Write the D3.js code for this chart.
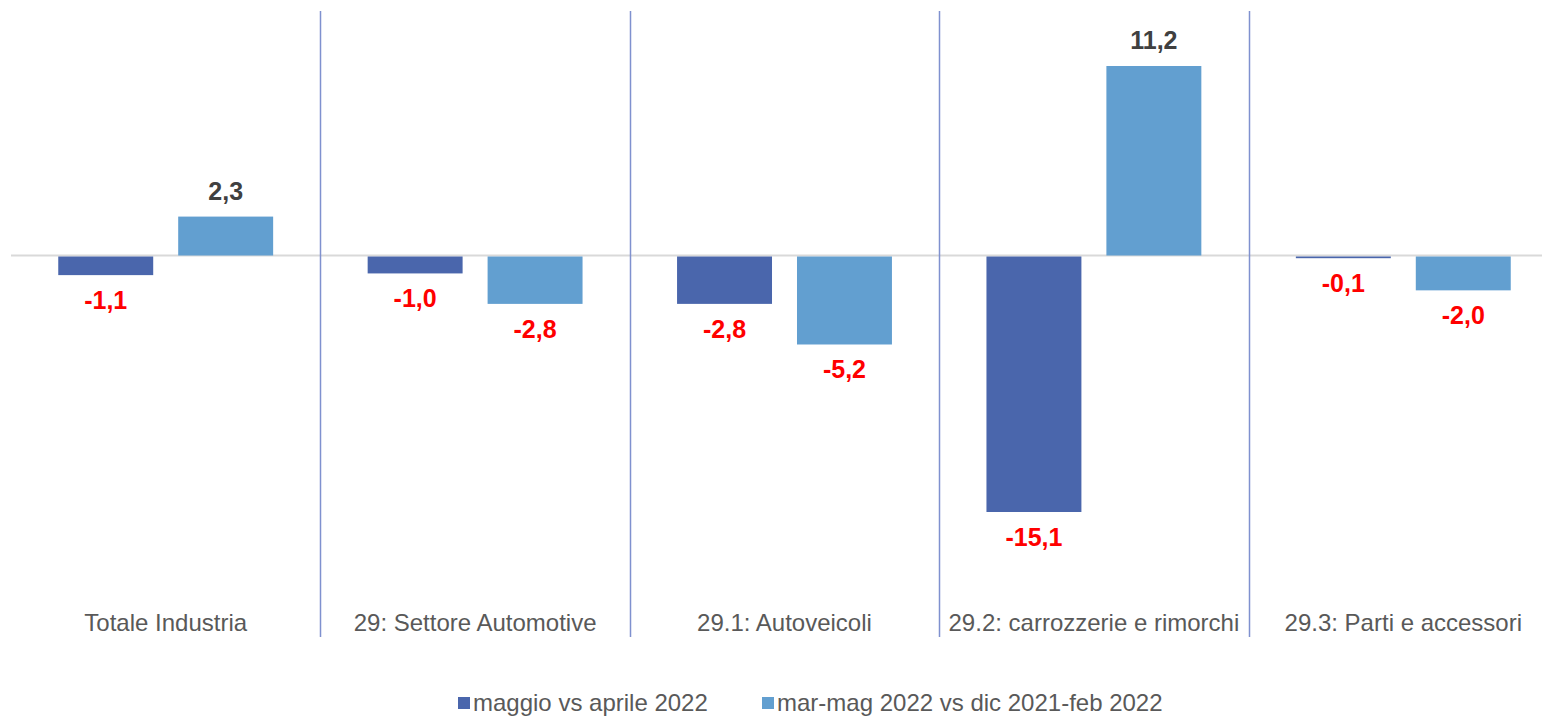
<!DOCTYPE html>
<html><head><meta charset="utf-8">
<script src="https://cdn.jsdelivr.net/npm/d3@7"></script>
<style>body{margin:0;background:#fff;}svg{display:block;font-family:"Liberation Sans",Arial,sans-serif;}</style>
</head><body>
<svg id="c" width="1542" height="717"></svg>
<script>
const categories = ["Totale Industria","29: Settore Automotive","29.1: Autoveicoli","29.2: carrozzerie e rimorchi","29.3: Parti e accessori"];
const seriesNames = ["maggio vs aprile 2022","mar-mag 2022 vs dic 2021-feb 2022"];
const maggio = [-1.1,-1.0,-2.8,-15.1,-0.1];
const marMag = [2.3,-2.8,-5.2,11.2,-2.0];
const colors = ["#4a66ac","#629fd0"];

const svg = d3.select("#c");
const W = 1542;
const x0 = d3.scaleBand().domain(categories).range([11,1558]).padding(0);
const x1 = d3.scaleBand().domain(seriesNames).range([0,x0.bandwidth()]).paddingInner(25/120).paddingOuter(0.394);
const y = d3.scaleLinear().domain([-15.1,11.2]).range([511,66]);

// zero line
svg.append("line").attr("x1",x0.range()[0]).attr("x2",W).attr("y1",y(0)).attr("y2",y(0))
  .attr("stroke","#d9d9d9").attr("stroke-width",2);

// separators
categories.slice(1).forEach(c=>{
  const xx = Math.round(x0(c))+0.5;
  svg.append("line").attr("x1",xx).attr("x2",xx).attr("y1",11).attr("y2",637)
    .attr("stroke","#7f91cf").attr("stroke-width",1.5);
});

const data = [maggio, marMag];
const fmt = v => d3.format(".1f")(v).replace(".",",").replace("−","-");
data.forEach((vals,si)=>{
  const g = svg.append("g");
  vals.forEach((v,i)=>{
    const cx = x0(categories[i]) + x1(seriesNames[si]);
    const top = Math.min(y(v),y(0)), h = Math.max(Math.abs(y(v)-y(0)),1);
    g.append("rect").attr("x",cx).attr("width",x1.bandwidth())
      .attr("y", v<0 ? y(0)+1 : top).attr("height",h).attr("fill",colors[si]);
    const tx = cx + x1.bandwidth()/2;
    g.append("text").attr("x",tx).attr("y", v<0 ? y(v)+35 : y(v)-17)
      .attr("text-anchor","middle").attr("font-size",25).attr("font-weight","bold")
      .attr("fill", v<0 ? "#ff0000" : "#404040").text(fmt(v));
  });
});

// category labels
categories.forEach(c=>{
  svg.append("text").attr("x",x0(c)+x0.bandwidth()/2).attr("y",631)
    .attr("text-anchor","middle").attr("font-size",24).attr("fill","#595959").text(c);
});

// legend
const legX = [458,762];
seriesNames.forEach((s,i)=>{
  svg.append("rect").attr("x",legX[i]).attr("y",697).attr("width",12).attr("height",12).attr("fill",colors[i]);
  svg.append("text").attr("x",legX[i]+15).attr("y",711).attr("font-size",24).attr("fill","#595959").text(s);
});
</script>
</body></html>
